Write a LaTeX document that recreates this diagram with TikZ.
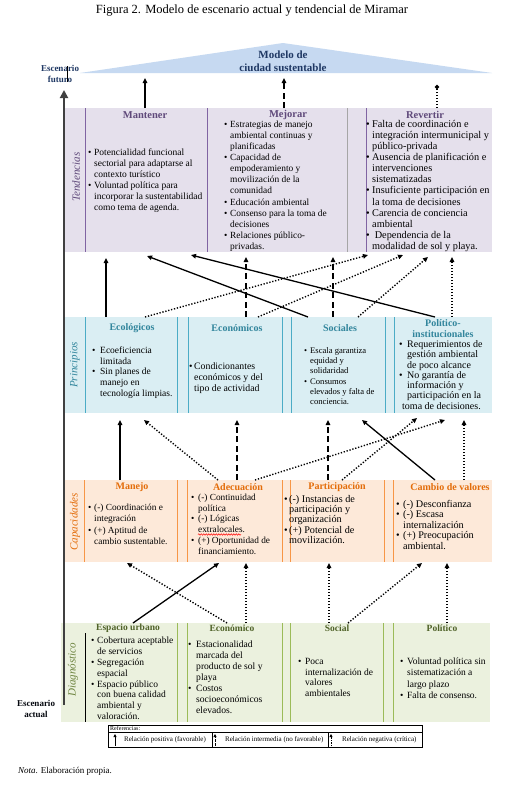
\documentclass[tikz,border=0pt]{standalone}
\usepackage{fontspec}
\setmainfont{Liberation Serif}
\usetikzlibrary{arrows.meta,decorations.pathmorphing}
\definecolor{roof}{HTML}{C6D9F1}
\definecolor{navy}{HTML}{1F3864}
\definecolor{tenfill}{HTML}{E5E0EC}
\definecolor{tenline}{HTML}{8064A2}
\definecolor{tenhead}{HTML}{5F497A}
\definecolor{prifill}{HTML}{DAEEF3}
\definecolor{priline}{HTML}{4BACC6}
\definecolor{prihead}{HTML}{31859C}
\definecolor{capfill}{HTML}{FDE9D9}
\definecolor{capline}{HTML}{F79646}
\definecolor{caphead}{HTML}{E36C09}
\definecolor{diafill}{HTML}{EBF1DE}
\definecolor{dialine}{HTML}{9BBB59}
\definecolor{diahead}{HTML}{4F6228}
\definecolor{axisgray}{HTML}{404040}
\newcommand{\bul}[1][6pt]{\makebox[#1][l]{\textbullet}}
\newcommand{\indt}[1][6pt]{\hspace*{#1}}
\begin{document}
\begin{tikzpicture}[x=1pt,y=-1pt,
  atip/.style={-{Triangle[length=5pt,width=4.5pt]}},
  apos/.style={line width=1.5pt,atip},
  amid/.style={line width=1.8pt,dash pattern=on 6pt off 3.5pt,atip},
  aneg/.style={line width=1.4pt,dash pattern=on 1.3pt off 1.7pt,atip},
  txt/.style n args={2}{anchor=north west,inner sep=0pt,align=left,font=\fontsize{#1}{#2}\selectfont},
  hdr/.style={inner sep=0pt,font=\fontsize{10}{11}\selectfont\bfseries,align=center},
  lbl/.style={rotate=90,inner sep=0pt,font=\fontsize{11}{11}\selectfont\itshape},
]
\useasboundingbox (0,0) rectangle (504,787);
\fill[white] (0,0) rectangle (504,787);

% title
\node[font=\fontsize{12.5}{14}\selectfont] (title) at (252,11) {Figura 2. Modelo de escenario actual y tendencial de Miramar};

% roof
\fill[roof] (80,73) -- (283,43) -- (492,73) -- cycle;
\node[font=\fontsize{11}{13}\selectfont\bfseries,text=navy,align=center,inner sep=0pt] (roofT) at (283,61) {Modelo de\\ciudad sustentable};
\node[font=\fontsize{9}{10.5}\selectfont\bfseries,text=navy,align=center,inner sep=0pt] (fut) at (60,74) {Escenario\\futuro};
\draw[line width=0.6pt] (67,66)--(67,82);
\node[font=\fontsize{9}{10.5}\selectfont\bfseries,text=black!85!navy,align=center,inner sep=0pt] (act) at (36,709) {Escenario\\actual};

% bands
\fill[tenfill] (65,108) rectangle (492,252);
\fill[prifill] (65,317) rectangle (492,413);
\fill[capfill] (65,480) rectangle (492,562);
\fill[diafill] (61,623) rectangle (490,722);

\foreach \x in {85,207,366} \draw[tenline,line width=0.9pt] (\x,108)--(\x,252);
\draw[gray!70,line width=0.5pt] (347,108)--(347,252);
\foreach \x in {85,177,188,282,291,385,394} \draw[priline,line width=0.7pt] (\x,317)--(\x,413);
\foreach \x in {84,177,187,282,290,384,393} \draw[capline,line width=0.7pt] (\x,480)--(\x,562);
\draw[black,line width=1pt] (85,633)--(85,722);
\foreach \x in {177,187,282,290,383,393} \draw[dialine,line width=0.7pt] (\x,623)--(\x,722);

% axis
\coordinate (axB) at (64,705);
\coordinate (axT) at (64,90);
\draw[axisgray,line width=1.8pt,-{Triangle[length=8pt,width=8pt]}] (axB)--(axT);

% side labels
\node[lbl,text=tenhead] (lTen) at (76,177) {Tendencias};
\node[lbl,text=prihead] (lPri) at (75,365) {Principios};
\node[lbl,text=caphead] (lCap) at (75,522) {Capacidades};
\node[lbl,text=dialine!70!black] (lDia) at (73,670) {Diagnóstico};

% headers
\node[hdr,text=tenhead,font=\fontsize{10.5}{11}\selectfont\bfseries] (hMan) at (145,115) {Mantener};
\node[hdr,text=tenhead,font=\fontsize{10.5}{11}\selectfont\bfseries] (hMej) at (288,115) {Mejorar};
\node[hdr,text=tenhead,font=\fontsize{10.5}{11}\selectfont\bfseries] (hRev) at (425,115) {Revertir};
\node[hdr,text=prihead] (hEco) at (132,328) {Ecológicos};
\node[hdr,text=prihead] (hEcn) at (237,328) {Económicos};
\node[hdr,text=prihead] (hSoc) at (340,328) {Sociales};
\node[hdr,text=prihead] (hPol) at (443,328.5) {Político-\\institucionales};
\node[hdr,text=caphead] (hMane) at (132,487) {Manejo};
\node[hdr,text=caphead] (hAde) at (238,487) {Adecuación};
\node[hdr,text=caphead] (hPar) at (337,487) {Participación};
\node[hdr,text=caphead] (hCam) at (450,487) {Cambio de valores};
\node[hdr,text=diahead,font=\fontsize{9.5}{11}\selectfont\bfseries] (hEsp) at (128,628) {Espacio urbano};
\node[hdr,text=diahead,font=\fontsize{9.5}{11}\selectfont\bfseries] (hDEc) at (232,628) {Económico};
\node[hdr,text=diahead,font=\fontsize{9.5}{11}\selectfont\bfseries] (hDSo) at (337,628) {Social};
\node[hdr,text=diahead,font=\fontsize{9.5}{11}\selectfont\bfseries] (hDPo) at (442,628) {Político};

% tendencias texts
\node[txt={9.5}{11}] (tMan) at (88,147.5) {\strut\bul Potencialidad funcional\\\indt sectorial para adaptarse al\\\indt contexto turístico\\\bul Voluntad política para\\\indt incorporar la sustentabilidad\\\indt como tema de agenda.};
\node[txt={9.4}{11.1}] (tMej) at (224,119.4) {\strut\bul Estrategias de manejo\\\indt ambiental continuas y\\\indt planificadas\\\bul Capacidad de\\\indt empoderamiento y\\\indt movilización de la\\\indt comunidad\\\bul Educación ambiental\\\bul Consenso para la toma de\\\indt decisiones\\\bul Relaciones público-\\\indt privadas.};
\node[txt={10.3}{11.1}] (tRev) at (366,119.4) {\strut\bul Falta de coordinación e\\\indt integración intermunicipal y\\\indt público-privada\\\bul Ausencia de planificación e\\\indt intervenciones\\\indt sistematizadas\\\bul Insuficiente participación en\\\indt la toma de decisiones\\\bul Carencia de conciencia\\\indt ambiental\\\bul\ Dependencia de la\\\indt modalidad de sol y playa.};

% principios texts
\node[txt={9.5}{10.75}] (pEco) at (92,345.7) {\strut\bul[8pt]Ecoeficiencia\\\indt[8pt]limitada\\\bul[8pt]Sin planes de\\\indt[8pt]manejo en\\\indt[8pt]tecnología limpias.};
\node[txt={9.8}{11}] (pEcn) at (189,361.5) {\strut\bul[5pt]Condicionantes\\\indt[5pt]económicos y del\\\indt[5pt]tipo de actividad};
\node[txt={8.6}{10.2}] (pSoc) at (304,346.1) {\strut\bul Escala garantiza\\\indt equidad y\\\indt solidaridad\\\bul Consumos\\\indt elevados y falta de\\\indt conciencia.};
\node[txt={10}{10.3}] (pPol) at (399,340) {\strut\bul[8pt]Requerimientos de\\\indt[8pt]gestión ambiental\\\indt[8pt]de poco alcance\\\bul[8pt]No garantía de\\\indt[8pt]información y\\\indt[8pt]participación en la\\\indt[3pt]toma de decisiones.};

% capacidades texts
\node[txt={9.3}{11.3}] (cMan) at (88,502.3) {\strut\bul (-) Coordinación e\\\indt integración\\\bul (+) Aptitud de\\\indt cambio sustentable.};
\node[txt={9.3}{10.8}] (cAde) at (191,492.6) {\strut\bul[7pt](-) Continuidad\\\indt[7pt]política\\\bul[7pt](-) Lógicas\\\indt[7pt]extralocales.\\\bul[7pt](+) Oportunidad de\\\indt[7pt]financiamiento.};
\node[txt={10.2}{10.25}] (cPar) at (284,495) {\strut\bul[5pt](-) Instancias de\\\indt[5pt]participación y\\\indt[5pt]organización\\\bul[5pt](+) Potencial de\\\indt[5pt]movilización.};
\node[txt={10.2}{10.5}] (cCam) at (396,499.9) {\strut\bul[7pt](-) Desconfianza\\\bul[7pt](-) Escasa\\\indt[7pt]internalización\\\bul[7pt](+) Preocupación\\\indt[7pt]ambiental.};
\draw[red,line width=0.5pt,decorate,decoration={snake,amplitude=0.7pt,segment length=2.5pt}] (198,534.5) -- (241,534.5);

% diagnostico texts
\node[txt={9.5}{10.9}] (dEsp) at (91,635.6) {\strut\bul Cobertura aceptable\\\indt de servicios\\\bul Segregación\\\indt espacial\\\bul Espacio público\\\indt con buena calidad\\\indt ambiental y\\\indt valoración.};
\node[txt={9.6}{11}] (dEco) at (188,639.5) {\strut\bul[8pt]Estacionalidad\\\indt[8pt]marcada del\\\indt[8pt]producto de sol y\\\indt[8pt]playa\\\bul[8pt]Costos\\\indt[8pt]socioeconómicos\\\indt[8pt]elevados.};
\node[txt={9.5}{10.7}] (dSoc) at (298,656.7) {\strut\bul[7pt]Poca\\\indt[7pt]internalización de\\\indt[7pt]valores\\\indt[7pt]ambientales};
\node[txt={9.5}{11.3}] (dPol) at (400,656.3) {\strut\bul[7pt]Voluntad política sin\\\indt[7pt]sistematización a\\\indt[7pt]largo plazo\\\bul[7pt]Falta de consenso.};

% connector end points
\coordinate (a1s) at (145,108); \coordinate (a1e) at (145,78);
\coordinate (a2s) at (284,108); \coordinate (a2e) at (284,78);
\coordinate (a3s) at (437,108); \coordinate (a3e) at (437,85);

\coordinate (b1s) at (106,317); \coordinate (b1e) at (106,258);
\coordinate (b2s) at (308,317); \coordinate (b2e) at (147,256);
\coordinate (b3s) at (435,317); \coordinate (b3e) at (191,255);
\coordinate (b4s) at (246,317); \coordinate (b4e) at (246,257);
\coordinate (b5s) at (333,317); \coordinate (b5e) at (333,257);
\coordinate (b6s) at (145,317); \coordinate (b6e) at (368,255);
\coordinate (b7s) at (258,317); \coordinate (b7e) at (403,255);
\coordinate (b8s) at (358,317); \coordinate (b8e) at (428,257);
\coordinate (b9s) at (452,317); \coordinate (b9e) at (452,257);

\coordinate (c1s) at (120,480); \coordinate (c1e) at (120,420);
\coordinate (c2s) at (218,480); \coordinate (c2e) at (144,420);
\coordinate (c3s) at (237,480); \coordinate (c3e) at (237,420);
\coordinate (c4s) at (255,480); \coordinate (c4e) at (445,420);
\coordinate (c5s) at (328,480); \coordinate (c5e) at (328,420);
\coordinate (c6s) at (342,480); \coordinate (c6e) at (417,418);
\coordinate (c7s) at (435,480); \coordinate (c7e) at (362,420);
\coordinate (c8s) at (464,480); \coordinate (c8e) at (464,420);

\coordinate (d1s) at (227,623); \coordinate (d1e) at (127,563);
\coordinate (d2s) at (133,623); \coordinate (d2e) at (219,563);
\coordinate (d3s) at (246,623); \coordinate (d3e) at (246,563);
\coordinate (d4s) at (329,623); \coordinate (d4e) at (329,563);
\coordinate (d5s) at (348,623); \coordinate (d5e) at (422,563);
\coordinate (d6s) at (447,623); \coordinate (d6e) at (447,563);

% connectors
\draw[apos] (a1s)--(a1e);
\draw[amid] (a2s)--(a2e);
\draw[aneg,-{Circle[length=4pt]}] (a3s)--(a3e);

\draw[apos] (b1s)--(b1e);
\draw[apos,line width=1.3pt] (b2s)--(b2e);
\draw[apos,line width=1.3pt] (b3s)--(b3e);
\draw[amid] (b4s)--(b4e);
\draw[amid] (b5s)--(b5e);
\draw[aneg] (b6s)--(b6e);
\draw[aneg] (b7s)--(b7e);
\draw[aneg] (b8s)--(b8e);
\draw[aneg] (b9s)--(b9e);

\draw[apos] (c1s)--(c1e);
\draw[aneg] (c2s)--(c2e);
\draw[amid] (c3s)--(c3e);
\draw[aneg] (c4s)--(c4e);
\draw[amid] (c5s)--(c5e);
\draw[aneg] (c6s)--(c6e);
\draw[apos,line width=1.3pt] (c7s)--(c7e);
\draw[aneg] (c8s)--(c8e);

\draw[aneg] (d1s)--(d1e);
\draw[apos,line width=1.3pt] (d2s)--(d2e);
\draw[aneg] (d3s)--(d3e);
\draw[aneg] (d4s)--(d4e);
\draw[aneg] (d5s)--(d5e);
\draw[aneg] (d6s)--(d6e);

% legend
\draw[line width=0.6pt] (108,725) rectangle (422,747);
\draw[line width=0.5pt] (108,732)--(422,732) (212,732)--(212,747) (328,732)--(328,747);
\node[anchor=west,inner sep=0pt,font=\fontsize{6}{6}\selectfont] (ref) at (110,728.5) {Referencias:};
\coordinate (l1s) at (115,746); \coordinate (l1e) at (115,734);
\coordinate (l2s) at (215,746); \coordinate (l2e) at (215,734);
\coordinate (l3s) at (331,746); \coordinate (l3e) at (331,734);
\draw[line width=1pt,-{Triangle[length=3pt,width=3pt]}] (l1s)--(l1e);
\draw[line width=1pt,dash pattern=on 3pt off 1.5pt,-{Triangle[length=3pt,width=3pt]}] (l2s)--(l2e);
\draw[line width=1pt,dash pattern=on 0.8pt off 1pt,-{Triangle[length=3pt,width=3pt]}] (l3s)--(l3e);
\node[anchor=west,inner sep=0pt,font=\fontsize{7}{7}\selectfont] (lt1) at (124,740) {Relación positiva (favorable)};
\node[anchor=west,inner sep=0pt,font=\fontsize{7}{7}\selectfont] (lt2) at (225,740) {Relación intermedia (no favorable)};
\node[anchor=west,inner sep=0pt,font=\fontsize{7}{7}\selectfont] (lt3) at (342,740) {Relación negativa (crítica)};

\node[anchor=west,inner sep=0pt,font=\fontsize{9}{11}\selectfont] (nota) at (18,771) {\textit{Nota}. Elaboración propia.};
\end{tikzpicture}
\end{document}
